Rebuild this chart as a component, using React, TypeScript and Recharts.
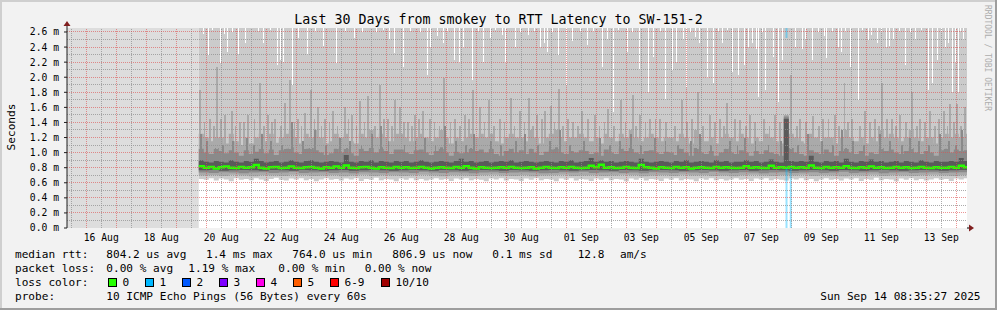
import React from 'react';
import {
  ComposedChart,
  Area,
  Line,
  XAxis,
  YAxis,
  ReferenceLine,
  ReferenceArea,
  ReferenceDot,
} from 'recharts';

// ---- time axis (hours since 2025-08-15 00:00) ----
const START_H = 8.583; // Fri Aug 15 08:35
const END_H = 728.583; // Sun Sep 14 08:35
const DATA_START_H = 114; // first sample, Aug 19 18:00
const STEP_H = 4;
const Y_MAX = 2.653; // ms

const yMajorTicks = [0, 0.2, 0.4, 0.6, 0.8, 1.0, 1.2, 1.4, 1.6, 1.8, 2.0, 2.2, 2.4, 2.6];
const yMinorLines = [0.1, 0.3, 0.5, 0.7, 0.9, 1.1, 1.3, 1.5, 1.7, 1.9, 2.1, 2.3, 2.5];
const dayLines = Array.from({ length: 30 }, (_, i) => 24 * (i + 1));
const noonLines = Array.from({ length: 30 }, (_, i) => 12 + 24 * i);
const labelTicks = [36, 84, 132, 180, 228, 276, 324, 372, 420, 468, 516, 564, 612, 660, 708];
const monthNames = ['Jan', 'Feb', 'Mar', 'Apr', 'May', 'Jun', 'Jul', 'Aug', 'Sep', 'Oct', 'Nov', 'Dec'];

// ---- smoke percentiles, microseconds, one value per 4 h ----
const p8 = [
  1250, 1200, 1150, 1200, 1200, 1120, 1250, 1150, 1100, 1200,
  1120, 1200, 1250, 1150, 1250, 1130, 1200, 1250, 1300, 1200,
  1120, 1250, 1200, 1300, 1200, 1120, 1150, 1250, 1200, 1250,
  1150, 1120, 1250, 1200, 1300, 1200, 1250, 1200, 1150, 1250,
  1250, 1200, 1150, 1200, 1250, 1200, 1150, 1200, 1300, 1200,
  1120, 1200, 1150, 1200, 1250, 1200, 1250, 1200, 1250, 1150,
  1120, 1200, 1250, 1200, 1200, 1150, 1300, 1200, 1120, 1200,
  1250, 1300, 1200, 1150, 1200, 1200, 1250, 1200, 1150, 1200,
  1120, 1250, 1200, 1150, 1250, 1200, 1300, 1200, 1150, 1200,
  1250, 1200, 1150, 1200, 1200, 1150, 1250, 1200, 1120, 1300,
  1200, 1150, 1200, 1120, 1200, 1250, 1200, 1150, 1250, 1200,
  1120, 1200, 1150, 1250, 1200, 1150, 1120, 1500, 1250, 1200,
  1150, 1120, 1250, 1200, 1150, 1200, 1200, 1120, 1200, 1300,
  1200, 1150, 1200, 1120, 1200, 1150, 1300, 1200, 1250, 1200,
  1150, 1200, 1300, 1200, 1150, 1200, 1200, 1120, 1200, 1250,
  1200, 1250, 1200, 1250,
];
const p7 = [
  1050, 1000, 980, 1060, 1020, 990, 1030, 1000, 960, 1030,
  980, 1010, 1060, 990, 1040, 970, 1030, 1050, 1070, 1000,
  980, 1050, 1060, 1030, 1000, 970, 990, 1050, 1000, 1060,
  990, 960, 1050, 1020, 1060, 1000, 1070, 1020, 980, 1040,
  1040, 1000, 980, 1030, 1040, 1000, 970, 1020, 1070, 1000,
  960, 1010, 990, 1000, 1060, 1020, 1040, 1000, 1050, 980,
  960, 1020, 1050, 1000, 1030, 980, 1050, 1000, 970, 1010,
  1040, 1070, 1000, 980, 1020, 1000, 1030, 1020, 980, 1000,
  960, 1040, 1000, 980, 1050, 1020, 1060, 1000, 980, 1020,
  1030, 1000, 980, 1010, 1000, 970, 1050, 1000, 960, 1060,
  1000, 980, 1020, 960, 1000, 1050, 1000, 980, 1030, 1000,
  960, 1020, 980, 1030, 1000, 980, 960, 1480, 1060, 1000,
  980, 960, 1030, 1000, 980, 1040, 1000, 960, 1020, 1060,
  1000, 980, 1020, 960, 1000, 980, 1060, 1020, 1040, 1000,
  980, 1020, 1060, 1000, 980, 1020, 1000, 960, 1030, 1050,
  1000, 1040, 1020, 1030,
];
const p6 = [
  900, 880, 870, 890, 880, 870, 900, 880, 870, 890,
  880, 920, 890, 870, 880, 890, 870, 880, 900, 880,
  870, 890, 900, 880, 870, 880, 890, 880, 870, 970,
  880, 870, 890, 880, 900, 870, 890, 880, 870, 890,
  880, 890, 870, 880, 900, 880, 870, 880, 890, 880,
  870, 890, 920, 880, 890, 870, 880, 890, 870, 880,
  890, 880, 900, 870, 880, 890, 880, 870, 880, 890,
  880, 870, 890, 880, 900, 870, 880, 890, 930, 880,
  900, 880, 890, 870, 880, 890, 880, 870, 920, 880,
  870, 880, 890, 880, 870, 890, 880, 900, 870, 880,
  890, 880, 870, 900, 880, 890, 870, 880, 880, 900,
  880, 890, 870, 880, 910, 880, 870, 1450, 890, 880,
  890, 880, 960, 880, 870, 890, 880, 890, 870, 920,
  880, 870, 890, 880, 910, 880, 890, 870, 880, 890,
  870, 890, 880, 870, 900, 880, 870, 890, 880, 880,
  890, 880, 930, 890,
];
const medianRtt = [
  820, 800, 810, 790, 805, 815, 800, 795, 810, 800,
  805, 835, 800, 790, 805, 810, 795, 800, 815, 800,
  795, 805, 810, 800, 790, 805, 800, 815, 800, 830,
  800, 795, 805, 810, 800, 790, 805, 800, 795, 810,
  800, 805, 795, 800, 810, 800, 790, 800, 805, 800,
  795, 810, 800, 820, 800, 790, 805, 800, 795, 800,
  805, 800, 810, 800, 795, 800, 805, 790, 800, 810,
  800, 795, 805, 800, 810, 800, 795, 800, 825, 805,
  840, 800, 805, 795, 800, 810, 800, 795, 835, 805,
  800, 790, 805, 800, 795, 810, 800, 805, 790, 800,
  805, 800, 795, 810, 800, 805, 800, 795, 800, 820,
  800, 805, 800, 795, 825, 800, 805, 800, 810, 800,
  805, 800, 830, 800, 795, 810, 800, 805, 800, 820,
  800, 795, 805, 800, 815, 800, 805, 795, 800, 810,
  800, 805, 795, 800, 810, 800, 795, 805, 800, 800,
  810, 800, 825, 805,
];
const p0 = [
  650, 640, 660, 630, 655, 645, 620, 660, 640, 650,
  635, 660, 645, 625, 650, 665, 640, 630, 655, 645,
  660, 635, 650, 620, 645, 660, 640, 650, 630, 655,
  645, 660, 625, 650, 640, 665, 635, 650, 645, 620,
  655, 640, 660, 635, 650, 630, 645, 660, 640, 650,
  625, 655, 645, 660, 635, 650, 640, 620, 655, 645,
  660, 630, 650, 645, 625, 655, 640, 660, 635, 650,
  645, 620, 655, 640, 660, 630, 650, 645, 625, 655,
  640, 660, 635, 650, 645, 620, 655, 640, 660, 630,
  650, 645, 625, 655, 640, 660, 635, 650, 645, 620,
  655, 640, 660, 635, 650, 630, 645, 660, 640, 650,
  625, 655, 645, 660, 635, 650, 640, 630, 655, 645,
  660, 635, 650, 620, 645, 660, 640, 650, 630, 655,
  645, 660, 625, 650, 640, 665, 635, 650, 645, 620,
  655, 640, 660, 635, 650, 630, 645, 660, 640, 650,
  625, 655, 645, 660,
];
// lower percentiles, one value per 8 h
const p1 = [
  695, 700, 690, 705, 695, 685, 700, 695, 690, 705,
  700, 690, 695, 700, 685, 695, 705, 690, 700, 695,
  690, 700, 705, 695, 685, 700, 695, 690, 700, 705,
  695, 690, 700, 685, 695, 700, 705, 690, 695, 700,
  690, 695, 705, 700, 685, 695, 700, 690, 705, 695,
  700, 690, 695, 685, 700, 705, 695, 690, 700, 695,
  705, 690, 700, 695, 685, 700, 695, 705, 690, 700,
  695, 690, 700, 705, 695, 690, 700,
];
const p2 = [
  735, 730, 740, 735, 725, 735, 740, 730, 735, 745,
  730, 735, 740, 730, 735, 725, 740, 735, 730, 740,
  735, 730, 745, 735, 730, 740, 735, 725, 735, 740,
  730, 735, 740, 735, 725, 730, 740, 735, 745, 730,
  735, 740, 730, 735, 725, 740, 735, 730, 740, 735,
  730, 745, 735, 730, 740, 735, 725, 735, 740, 730,
  735, 740, 730, 735, 745, 730, 735, 740, 725, 735,
  740, 730, 735, 740, 730, 735, 740,
];
const p3 = [
  765, 770, 760, 765, 770, 765, 760, 770, 765, 760,
  770, 765, 760, 765, 770, 760, 765, 770, 765, 760,
  765, 770, 765, 760, 770, 765, 760, 765, 770, 765,
  760, 770, 765, 760, 765, 770, 765, 760, 765, 770,
  765, 760, 770, 765, 760, 765, 770, 765, 760, 765,
  770, 765, 760, 765, 770, 760, 765, 770, 765, 760,
  765, 770, 765, 760, 770, 765, 760, 765, 770, 765,
  760, 765, 770, 765, 760, 765, 770,
];

// ---- short-lived high readings of the 9th ping [hour, µs] ----
const p8Spikes: [number, number][] = [
  [115.0, 1830], [123.0, 1450], [128.6, 2140], [135.0, 1500], [140.6, 1550], [147.0, 1400], [153.4, 1500],
  [163.0, 1930], [169.4, 1500], [175.0, 1450], [183.0, 1660], [187.0, 1960], [193.4, 1450], [199.0, 1530],
  [203.8, 1830], [209.4, 1600], [215.0, 1450], [221.4, 1550], [231.0, 1600], [236.6, 1500], [243.0, 1680],
  [249.4, 1750], [259.0, 1900], [265.4, 1450], [271.0, 1700], [275.0, 1600], [281.4, 1400], [287.0, 1500],
  [293.4, 1550], [299.0, 1450], [310.2, 1990], [319.0, 1450], [327.0, 1500], [333.4, 1830], [339.0, 1600],
  [346.2, 1700], [355.0, 1450], [363.8, 1720], [371.0, 1550], [378.2, 1720], [384.6, 1500], [391.0, 1550],
  [395.8, 1620], [402.2, 1850], [409.4, 1450], [420.6, 1550], [431.0, 1500], [441.4, 1580], [451.8, 1700],
  [461.4, 1760], [467.0, 1500], [475.0, 1450], [483.0, 1450], [500.6, 1700], [508.6, 1450], [513.4, 1800],
  [523.0, 1500], [531.0, 1450], [536.6, 1660], [547.0, 1430], [555.0, 1500], [566.2, 1450], [575.0, 1500],
  [587.8, 2030], [595.0, 1450], [605.4, 1480], [617.8, 1450], [623.0, 1500], [630.6, 1930], [636.6, 1450],
  [647.0, 1550], [655.0, 1450], [660.6, 1930], [668.6, 1450], [675.0, 1500], [684.6, 1800], [691.0, 1450],
  [699.0, 1550], [710.2, 1550], [715.0, 1650], [720.6, 1640], [727.0, 1600],
  [118.6, 1400], [126.2, 1350], [131.8, 1450], [143.4, 1350], [150.2, 1400], [158.6, 1450], [166.2, 1350],
  [172.6, 1400], [179.8, 1350], [190.6, 1400], [196.2, 1350], [206.6, 1450], [212.2, 1350], [218.6, 1400],
  [225.0, 1350], [233.8, 1450], [240.2, 1350], [246.6, 1400], [255.0, 1350], [262.2, 1450], [268.6, 1350],
  [278.2, 1400], [284.6, 1350], [290.2, 1450], [302.6, 1400], [306.6, 1350], [315.4, 1400], [323.0, 1350],
  [330.2, 1450], [342.6, 1400], [350.2, 1350], [358.6, 1400], [366.6, 1350], [374.6, 1400], [381.4, 1350],
  [388.6, 1450], [398.6, 1400], [405.4, 1350], [413.4, 1400], [417.4, 1350], [425.4, 1450], [434.6, 1350],
  [438.6, 1400], [446.2, 1350], [455.4, 1400], [463.8, 1350], [471.4, 1400], [479.4, 1450], [487.8, 1400],
  [495.0, 1350], [504.6, 1400], [517.4, 1350], [527.0, 1400], [534.2, 1350], [543.0, 1450], [551.8, 1350],
  [559.0, 1400], [570.6, 1350], [579.0, 1400], [592.6, 1350], [599.8, 1400], [610.2, 1350], [613.4, 1450],
  [626.2, 1350], [633.4, 1400], [643.0, 1350], [651.0, 1400], [658.2, 1350], [664.6, 1450], [671.8, 1350],
  [679.8, 1400], [688.6, 1350], [695.0, 1400], [703.0, 1350], [706.2, 1450], [713.0, 1350], [718.2, 1400],
  [723.8, 1350],
];
// ---- short-lived high readings of the 8th ping [hour, µs] ----
const p7Spikes: [number, number][] = [
  [115.8, 1250], [152.6, 1200], [164.6, 1250], [188.6, 1400], [207.0, 1300], [227.0, 1200], [252.6, 1250],
  [259.8, 1350], [295.0, 1200], [311.0, 1350], [334.2, 1250], [375.0, 1250], [403.0, 1300], [435.0, 1200],
  [459.8, 1250], [479.0, 1200], [515.0, 1250], [551.0, 1200], [601.4, 1250], [628.6, 1300], [659.0, 1250],
  [683.0, 1200], [707.0, 1250], [724.6, 1300],
  [120.6, 1150], [133.4, 1100], [141.4, 1150], [158.2, 1100], [171.8, 1150], [180.6, 1100], [197.4, 1150],
  [215.8, 1100], [235.0, 1150], [244.2, 1100], [265.8, 1150], [278.6, 1100], [287.4, 1150], [303.4, 1100],
  [319.8, 1150], [327.8, 1100], [347.8, 1150], [355.8, 1100], [367.8, 1150], [385.4, 1100], [395.0, 1150],
  [411.0, 1100], [422.2, 1150], [443.0, 1100], [451.0, 1150], [467.8, 1100], [487.4, 1150], [497.4, 1100],
  [507.8, 1150], [523.8, 1100], [539.0, 1150], [545.0, 1100], [559.4, 1150], [569.8, 1100], [579.8, 1150],
  [593.4, 1100], [612.6, 1150], [621.4, 1100], [637.4, 1150], [646.2, 1100], [667.0, 1150], [676.6, 1100],
  [690.2, 1150], [698.2, 1100], [714.2, 1150], [719.8, 1100],
];

// ---- hours where the maximum ping stayed below the top of the graph [hour, µs] ----
const maxDips: [number, number][] = [
  [117.4, 2580], [121.4, 2300], [131.0, 2190], [134.2, 2580], [136.6, 2340], [145.4, 2310], [151.0, 2450],
  [165.4, 2450], [176.6, 2160], [179.0, 2230], [181.4, 2200], [188.6, 1900], [193.4, 2520], [200.6, 2300],
  [213.4, 2410], [223.8, 2190], [238.2, 2520], [255.8, 2600], [266.2, 2490], [270.2, 2320], [277.4, 2140],
  [296.6, 2030], [299.0, 2400], [304.6, 2550], [309.4, 2450], [318.2, 2230], [322.2, 2190], [325.4, 2390],
  [332.6, 1960], [341.4, 2200], [347.0, 2520], [356.6, 2560], [359.0, 2190], [367.0, 2400], [377.4, 2560],
  [387.0, 2400], [390.2, 2450], [392.6, 2330], [401.4, 2290], [407.8, 1900], [412.6, 2480], [424.6, 2430],
  [436.6, 2140], [440.6, 2500], [445.4, 1540], [456.6, 2330], [466.2, 2100], [473.4, 1800], [477.4, 2270],
  [487.0, 1700], [492.6, 2100], [495.8, 2200], [501.4, 2500], [503.8, 1870], [511.0, 2530], [514.2, 2450],
  [520.6, 1990], [525.4, 1920], [532.6, 2460], [540.6, 2070], [545.4, 2030], [550.2, 2160], [553.4, 2400],
  [556.6, 2450], [559.8, 2380], [561.4, 1740], [567.0, 1830], [573.4, 2270], [577.4, 1670], [580.6, 2230],
  [591.0, 2400], [596.6, 2380], [599.0, 2500], [604.6, 2230], [614.2, 2550], [615.8, 2250], [625.4, 2400],
  [627.8, 2330], [635.0, 2130], [641.4, 1700], [649.4, 2500], [651.8, 2560], [656.6, 2450], [663.8, 2400],
  [666.2, 2420], [669.4, 2500], [679.0, 2160], [687.0, 2500], [697.4, 1830], [700.6, 1920], [704.6, 2230],
  [711.0, 2400], [713.4, 2450], [716.6, 1800], [719.0, 2190], [721.4, 1800], [725.4, 2500],
  [124.6, 2620], [140.6, 2600], [161.4, 2610], [171.0, 2620], [207.0, 2600], [231.0, 2610], [244.6, 2600],
  [261.4, 2620], [283.0, 2610], [291.0, 2600], [312.6, 2600], [337.4, 2610], [351.0, 2620], [371.0, 2600],
  [382.2, 2610], [396.6, 2600], [419.0, 2610], [429.4, 2600], [449.4, 2620], [460.6, 2600], [483.0, 2610],
  [507.0, 2600], [529.4, 2610], [536.6, 2620], [564.6, 2600], [609.4, 2600], [620.6, 2610], [631.0, 2600],
  [644.6, 2620], [659.8, 2600], [674.2, 2610], [683.0, 2600], [691.8, 2620], [707.8, 2600], [723.4, 2610],
];

// ---- packet loss events: hour, median at that time (µs), max ping (µs) or null ----
const lossHours = [584.2, 587.6];
const lossMedian = [790, 790];
const lossMax: (number | null)[] = [2520, null];

// ---- legend ----
const lossColors = [
  { label: '0', color: '#26ff00' },
  { label: '1', color: '#00b8ff' },
  { label: '2', color: '#0059ff' },
  { label: '3', color: '#7e00ff' },
  { label: '4', color: '#ff00ea' },
  { label: '5', color: '#ff5e00' },
  { label: '6-9', color: '#ff0000' },
  { label: '10/10', color: '#a10000' },
];
const rttStats = ['804.2 us avg', '1.4 ms max', '764.0 us min', '806.9 us now', '0.1 ms sd', '12.8', 'am/s'];
const lossStats = ['0.00 % avg', '1.19 % max', '0.00 % min', '0.00 % now'];

// ---- table for the chart ----
const rows = medianRtt.map((m, i) => {
  const k = Math.floor(i / 2);
  return {
    t: DATA_START_H + STEP_H * i,
    a: [p0[i] / 1000, Y_MAX],
    b: [p1[k] / 1000, p8[i] / 1000],
    c: [p2[k] / 1000, p7[i] / 1000],
    d: [p3[k] / 1000, p6[i] / 1000],
    med: m / 1000,
  };
});
rows.push({ ...rows[rows.length - 1], t: END_H });

const FONT = '"DejaVu Sans Mono", monospace';
const MGRID = 'rgba(222,79,79,0.6)';
const GRID = 'rgba(143,143,143,0.75)';
const ARROW = '#801f1f';
const COL_A = '#cbcbcb';
const COL_B = '#aaaaaa';
const COL_C = '#8a8a8a';
const COL_D = '#5a5a5a';

const fmtDay = (h: number) => {
  const d = new Date(Date.UTC(2025, 7, 15) + h * 3600000);
  return String(d.getUTCDate()).padStart(2, '0') + ' ' + monthNames[d.getUTCMonth()];
};

const XArrow = (p: any) => (
  <g>
    <line x1={p.cx} y1={p.cy} x2={p.cx + 3} y2={p.cy} stroke="#000" />
    <path d={`M${p.cx + 2} ${p.cy - 3.5} L${p.cx + 7} ${p.cy} L${p.cx + 2} ${p.cy + 3.5} Z`} fill={ARROW} />
  </g>
);
const YArrow = (p: any) => (
  <g>
    <line x1={p.cx} y1={p.cy} x2={p.cx} y2={p.cy - 3} stroke="#1f1f1f" />
    <path d={`M${p.cx - 3.5} ${p.cy - 2} L${p.cx} ${p.cy - 7} L${p.cx + 3.5} ${p.cy - 2} Z`} fill={ARROW} />
  </g>
);

export default function App() {
  const legendY = [258, 272, 286, 300];
  const rttX = [106.3, 206, 292.3, 392.3, 492.3, 577.7, 620];
  const lossX = [106.3, 188.3, 278.3, 364.7];
  const boxX = [108.5, 145.5, 182.5, 219.5, 256.5, 293.5, 330.5, 381.5];
  return (
    <div style={{ position: 'relative', width: 997, height: 310, background: '#f2f2f2', overflow: 'hidden' }}>
      <style>{'body{margin:0}'}</style>
      <div style={{ position: 'absolute', left: 67, top: 28, width: 900, height: 200, background: '#ffffff' }} />
      <div style={{ position: 'absolute', left: 0, top: 0 }}>
        <ComposedChart width={997} height={310} data={rows} margin={{ top: 28, right: 30, bottom: 62, left: 0 }}>
          <XAxis
            xAxisId={0}
            dataKey="t"
            type="number"
            domain={[START_H, END_H]}
            allowDataOverflow
            ticks={dayLines}
            interval={0}
            tick={false}
            tickSize={3}
            height={0}
            axisLine={{ stroke: '#000' }}
            tickLine={{ stroke: '#000' }}
          />
          <XAxis
            xAxisId="lab"
            dataKey="t"
            type="number"
            domain={[START_H, END_H]}
            allowDataOverflow
            ticks={labelTicks}
            interval={0}
            tickFormatter={fmtDay}
            tick={{ fontSize: 9.7, fill: '#000', fontFamily: FONT }}
            tickLine={false}
            axisLine={false}
            tickSize={0}
            tickMargin={6}
            height={20}
          />
          <YAxis
            type="number"
            domain={[0, Y_MAX]}
            allowDataOverflow
            ticks={yMajorTicks}
            interval={0}
            tickFormatter={(v: number) => v.toFixed(1) + ' m'}
            tick={{ fontSize: 9.7, fill: '#000', fontFamily: FONT }}
            tickSize={3}
            tickMargin={5}
            width={67}
            axisLine={{ stroke: '#1f1f1f' }}
            tickLine={{ stroke: '#1f1f1f' }}
          />
          <ReferenceArea x1={START_H} x2={DATA_START_H} y1={0} y2={Y_MAX} fill="#dddddd" fillOpacity={1} stroke="none" />
          <Area dataKey="a" type="stepAfter" stroke="none" fill={COL_A} fillOpacity={1} isAnimationActive={false} />
          <Area dataKey="b" type="stepAfter" stroke="none" fill={COL_B} fillOpacity={1} isAnimationActive={false} />
          <Area dataKey="c" type="stepAfter" stroke="none" fill={COL_C} fillOpacity={1} isAnimationActive={false} />
          <Area dataKey="d" type="stepAfter" stroke="none" fill={COL_D} fillOpacity={1} isAnimationActive={false} />
          <Line dataKey="med" type="stepAfter" stroke="#26ff00" strokeWidth={2.5} dot={false} isAnimationActive={false} />
          {p8Spikes.map(([h, v], i) => (
            <ReferenceLine
              key={'s8' + i}
              segment={[{ x: h, y: 1.05 }, { x: h, y: v / 1000 }]}
              stroke={COL_B}
              strokeWidth={1.5}
              shapeRendering="crispEdges"
            />
          ))}
          {p7Spikes.map(([h, v], i) => (
            <ReferenceLine
              key={'s7' + i}
              segment={[{ x: h, y: 0.95 }, { x: h, y: v / 1000 }]}
              stroke={COL_C}
              strokeWidth={1.5}
              shapeRendering="crispEdges"
            />
          ))}
          {maxDips.map(([h, v], i) => (
            <ReferenceLine
              key={'dip' + i}
              segment={[{ x: h, y: v / 1000 }, { x: h, y: Y_MAX }]}
              stroke="#ffffff"
              strokeWidth={1}
              shapeRendering="crispEdges"
            />
          ))}
          {lossHours.map((h, i) => (
            <ReferenceLine
              key={'loss' + i}
              segment={[{ x: h, y: 0 }, { x: h, y: lossMedian[i] / 1000 }]}
              stroke="#00b8ff"
              strokeOpacity={0.4}
              strokeWidth={2}
            />
          ))}
          {lossHours.map((h, i) =>
            lossMax[i] == null ? null : (
              <ReferenceLine
                key={'lossmax' + i}
                segment={[{ x: h, y: (lossMax[i] as number) / 1000 }, { x: h, y: Y_MAX }]}
                stroke="#00b8ff"
                strokeOpacity={0.4}
                strokeWidth={2}
              />
            )
          )}
          {yMinorLines.map((v) => (
            <ReferenceLine key={'ym' + v} y={v} stroke={GRID} strokeDasharray="1 1" shapeRendering="crispEdges" />
          ))}
          {noonLines.map((h) => (
            <ReferenceLine key={'xm' + h} x={h} stroke={GRID} strokeDasharray="1 1" shapeRendering="crispEdges" />
          ))}
          {yMajorTicks.slice(1).map((v) => (
            <ReferenceLine key={'yM' + v} y={v} stroke={MGRID} strokeDasharray="1 1" shapeRendering="crispEdges" />
          ))}
          {dayLines.map((h) => (
            <ReferenceLine key={'xM' + h} x={h} stroke={MGRID} strokeDasharray="1 1" shapeRendering="crispEdges" />
          ))}
          <ReferenceDot x={END_H} y={0} r={0} ifOverflow="visible" shape={XArrow} />
          <ReferenceDot x={START_H} y={Y_MAX} r={0} ifOverflow="visible" shape={YArrow} />
        </ComposedChart>
      </div>
      <svg
        width={997}
        height={310}
        style={{ position: 'absolute', left: 0, top: 0, pointerEvents: 'none' }}
        fontFamily={FONT}
      >
        <rect x={0} y={0} width={997} height={2} fill="#cfcfcf" />
        <rect x={0} y={0} width={2} height={310} fill="#cfcfcf" />
        <rect x={995} y={0} width={2} height={310} fill="#9e9e9e" />
        <rect x={0} y={308} width={997} height={2} fill="#9e9e9e" />
        <text x={498.5} y={24} textAnchor="middle" fontSize={13.3} fill="#000">
          Last 30 Days from smokey to RTT Latency to SW-151-2
        </text>
        <text transform="translate(15,127) rotate(-90)" textAnchor="middle" fontSize={11.1} fill="#000">
          Seconds
        </text>
        <text transform="translate(985,5) rotate(90)" fontSize={8} fill="#adadad">
          RRDTOOL / TOBI OETIKER
        </text>
        <g fontSize={11.1} fill="#000">
          <text x={15} y={legendY[0]}>median rtt:</text>
          {rttStats.map((s, i) => (
            <text key={'r' + i} x={rttX[i]} y={legendY[0]}>{s}</text>
          ))}
          <text x={15} y={legendY[1]}>packet loss:</text>
          {lossStats.map((s, i) => (
            <text key={'l' + i} x={lossX[i]} y={legendY[1]}>{s}</text>
          ))}
          <text x={15} y={legendY[2]}>loss color:</text>
          {lossColors.map((c, i) => (
            <g key={'c' + i}>
              <rect x={boxX[i]} y={278.5} width={8} height={8} fill={c.color} stroke="#000" strokeWidth={1} />
              <text x={boxX[i] + 14} y={legendY[2]}>{c.label}</text>
            </g>
          ))}
          <text x={15} y={legendY[3]}>probe:</text>
          <text x={106.3} y={legendY[3]}>10 ICMP Echo Pings (56 Bytes) every 60s</text>
          <text x={980.5} y={legendY[3]} textAnchor="end">Sun Sep 14 08:35:27 2025</text>
        </g>
      </svg>
    </div>
  );
}
